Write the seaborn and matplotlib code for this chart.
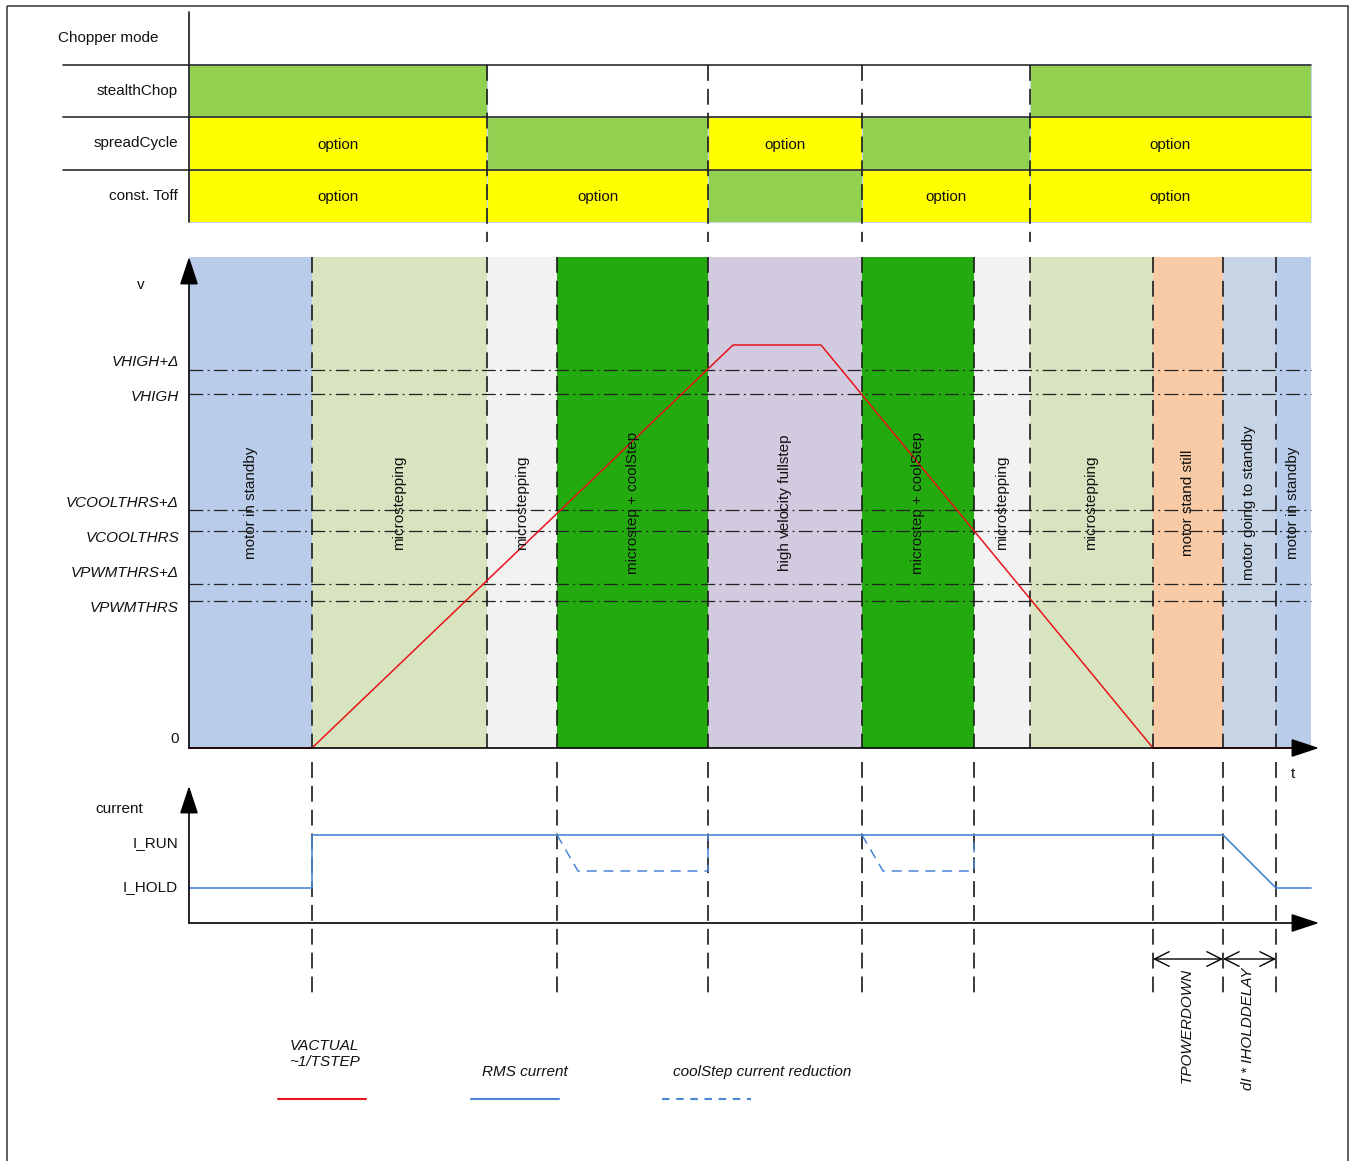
import numpy as np
import pandas as pd
import matplotlib.pyplot as plt
import seaborn as sns

# ==================== Data ====================
W, H = 1351, 1161

# time axis: phase boundaries (drawing units along t)
t_edges = [189, 312, 487, 557, 708, 862, 974, 1030, 1153, 1223, 1276, 1311]
phase_labels = ['motor in standby', 'microstepping', 'microstepping', 'microstep + coolStep',
                'high velocity fullstep', 'microstep + coolStep', 'microstepping', 'microstepping',
                'motor stand still', 'motor going to standby', 'motor in standby']
phase_colors = ['#B9CDEA', '#D8E4BF', '#F2F2F2', '#23AA0F', '#D2CADF', '#23AA0F',
                '#F2F2F2', '#D8E4BF', '#F8CBA6', '#C8D5E6', '#B9CDEA']

# chopper mode table  (G = active mode, O = option, '' = not used)
chop_edges = [189, 487, 708, 862, 1030, 1311]
chop_rows = ['stealthChop', 'spreadCycle', 'const. Toff']
stealth_state = ['G', '', '', '', 'G']
spread_state = ['O', 'G', 'O', 'G', 'O']
toff_state = ['O', 'O', 'G', 'O', 'O']

# velocity thresholds (height above v=0)
v_names = ['VHIGH+Δ', 'VHIGH', 'VCOOLTHRS+Δ', 'VCOOLTHRS', 'VPWMTHRS+Δ', 'VPWMTHRS']
v_levels = [378, 354, 238, 217, 164, 147]

# velocity profile VACTUAL
vel_t = [189, 312, 733, 821, 1153, 1311]
vel_v = [0, 0, 403, 403, 0, 0]

# current profile
I_RUN, I_HOLD = 88, 35
cur_t = [189, 312, 312, 1223, 1276, 1311]
cur_i = [I_HOLD, I_HOLD, I_RUN, I_RUN, I_HOLD, I_HOLD]
cool_t = [557, 578, 708, 708, 862, 883, 974, 974]
cool_i = [I_RUN, 52, 52, I_RUN, I_RUN, 52, 52, I_RUN]
cool_seg = [0, 0, 0, 0, 1, 1, 1, 1]

# ==================== Layout ====================
ROW_Y = [65, 117, 170, 222]
V_BASE, V_TOP = 748, 257
I_BASE, I_TOP = 923, 786
X_AXIS_END = 1319
TEXT = '#111111'
DASH = '#1a1a1a'

sns.set_style('white')
plt.rcParams['font.family'] = ['Liberation Sans', 'DejaVu Sans']

fig = plt.figure(figsize=(W / 100, H / 100), dpi=100)
ax = fig.add_axes([0, 0, 1, 1])

# frame
ax.add_patch(plt.Rectangle((7, 6), 1341, 1170, fill=False, ec='#333333', lw=1.1))

# ---------- chopper mode table ----------
ax.text(108, 38, 'Chopper mode', ha='center', va='center', fontsize=11, color=TEXT)
for r, (name, states) in enumerate(zip(chop_rows, [stealth_state, spread_state, toff_state])):
    y0, y1 = ROW_Y[r], ROW_Y[r + 1]
    ax.text(178, (y0 + y1) / 2, name, ha='right', va='center', fontsize=11, color=TEXT)
    for c, s in enumerate(states):
        x0, x1 = chop_edges[c], chop_edges[c + 1]
        if s == '':
            continue
        col = '#92D050' if s == 'G' else '#FFFF00'
        ax.add_patch(plt.Rectangle((x0, y0), x1 - x0, y1 - y0, fc=col, ec='#C5D5E8', lw=0.8))
        if s == 'O':
            ax.text((x0 + x1) / 2, (y0 + y1) / 2 + 1, 'option', ha='center', va='center',
                    fontsize=11, color=TEXT)
for y in ROW_Y[:3]:
    ax.plot([63, 1311], [y, y], color='#2b2b2b', lw=1.2)
ax.plot([189, 189], [12, 222], color='#1a1a1a', lw=1.2)
for x in chop_edges[1:-1]:
    ax.plot([x, x], [65, 242], color=DASH, lw=1.2, ls=(0, (9.5, 4.8)))

# ---------- velocity panel ----------
for x0, x1, col, lab in zip(t_edges[:-1], t_edges[1:], phase_colors, phase_labels):
    ax.bar(x0, V_BASE - V_TOP, width=x1 - x0, bottom=V_TOP, align='edge', color=col, lw=0)
    ax.text((x0 + x1) / 2, 503, lab, rotation=90, ha='center', va='center',
            fontsize=11, color=TEXT, zorder=5)

label_y = [362, 397, 503, 538, 573, 608]
for name, lvl, ly in zip(v_names, v_levels, label_y):
    y = V_BASE - lvl
    ax.plot([189, 1311], [y, y], color='#222222', lw=0.9, ls=(0, (11, 3.5, 1.5, 3.5)), zorder=3)
    ax.text(179, ly, name, ha='right', va='center', fontsize=11, style='italic', color=TEXT)

for x in t_edges[1:-1]:
    ax.plot([x, x], [V_TOP, V_BASE], color=DASH, lw=1.2, ls=(0, (9.5, 4.8)), zorder=3)
for x in [312, 557, 708, 862, 974, 1153, 1223, 1276]:
    ax.plot([x, x], [762, 993], color=DASH, lw=1.2, ls=(0, (9.5, 4.8)), zorder=3)

vel = pd.DataFrame({'t': vel_t, 'y': [V_BASE - v for v in vel_v]})
sns.lineplot(data=vel, x='t', y='y', sort=False, estimator=None, color='#E8141C',
             lw=1.1, ax=ax, zorder=4)

arrow = dict(arrowstyle='-|>,head_length=1.15,head_width=0.38', mutation_scale=15,
             color='black', lw=1.2, shrinkA=0, shrinkB=0)
ax.annotate('', xy=(189, V_TOP), xytext=(189, V_BASE), arrowprops=arrow, zorder=6)
ax.annotate('', xy=(X_AXIS_END, V_BASE), xytext=(189, V_BASE), arrowprops=arrow, zorder=6)
ax.text(141, 285, 'v', ha='center', va='center', fontsize=11, color=TEXT)
ax.text(175, 739, '0', ha='center', va='center', fontsize=11, color=TEXT)
ax.text(1293, 774, 't', ha='center', va='center', fontsize=11, color=TEXT)

# ---------- current panel ----------
cur = pd.DataFrame({'t': cur_t, 'y': [I_BASE - i for i in cur_i]})
sns.lineplot(data=cur, x='t', y='y', sort=False, estimator=None, color='#4A86D6',
             lw=1.2, ax=ax, zorder=4)
cool = pd.DataFrame({'t': cool_t, 'y': [I_BASE - i for i in cool_i], 'seg': cool_seg})
sns.lineplot(data=cool, x='t', y='y', units='seg', sort=False, estimator=None,
             color='#4A86D6', lw=1.1, ls=(0, (6.5, 4.5)), ax=ax, zorder=4)

ax.annotate('', xy=(189, I_TOP), xytext=(189, I_BASE), arrowprops=arrow, zorder=6)
ax.annotate('', xy=(X_AXIS_END, I_BASE), xytext=(189, I_BASE), arrowprops=arrow, zorder=6)
ax.text(119, 809, 'current', ha='center', va='center', fontsize=11, color=TEXT)
ax.text(178, 843, 'I_RUN', ha='right', va='center', fontsize=11, color=TEXT)
ax.text(178, 887, 'I_HOLD', ha='right', va='center', fontsize=11, color=TEXT)

# timing dimension arrows
dim = dict(arrowstyle='<->,head_length=0.7,head_width=0.35', mutation_scale=15,
           color='black', lw=1.0, shrinkA=0, shrinkB=0)
ax.annotate('', xy=(1153, 959), xytext=(1223, 959), arrowprops=dim)
ax.annotate('', xy=(1223, 959), xytext=(1276, 959), arrowprops=dim)
ax.text(1187, 968, 'TPOWERDOWN', rotation=90, ha='center', va='top', fontsize=11,
        style='italic', color=TEXT)
ax.text(1248, 968, 'dI * IHOLDDELAY', rotation=90, ha='center', va='top', fontsize=11,
        style='italic', color=TEXT)

# ---------- legend ----------
ax.text(324, 1054, 'VACTUAL\n~1/TSTEP', ha='center', va='center', fontsize=11,
        style='italic', color=TEXT, linespacing=1.15)
ax.plot([278, 366], [1099, 1099], color='#E8141C', lw=1.5)
ax.text(525, 1072, 'RMS current', ha='center', va='center', fontsize=11,
        style='italic', color=TEXT)
ax.plot([471, 559], [1099, 1099], color='#4A86D6', lw=1.5)
ax.text(762, 1072, 'coolStep current reduction', ha='center', va='center', fontsize=11,
        style='italic', color=TEXT)
ax.plot([662, 751], [1099, 1099], color='#4A86D6', lw=1.5, ls=(0, (3.6, 3.2)))

ax.set_xlim(0, W)
ax.set_ylim(H, 0)
ax.axis('off')
fig.savefig('out.png', dpi=100)
